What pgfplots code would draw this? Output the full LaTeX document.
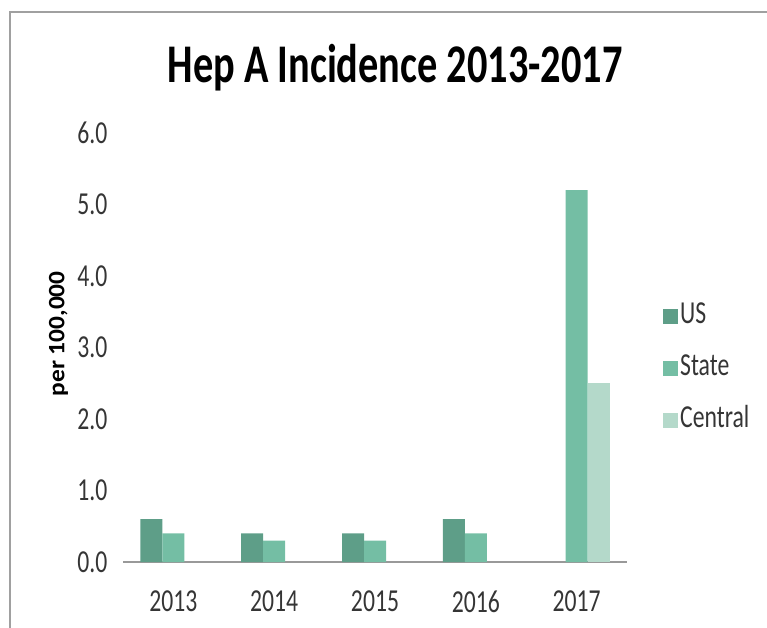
\documentclass[border=0pt]{standalone}
\usepackage{fontspec}
\setmainfont{Carlito}[FakeStretch=0.74]
\newfontfamily\rotfont{Carlito}[FakeStretch=1.08]
\usepackage{pgfplots}
\pgfplotsset{compat=1.18}
\definecolor{cUS}{HTML}{5E9E88}
\definecolor{cState}{HTML}{74BEA4}
\definecolor{cCentral}{HTML}{B4D9CA}
\definecolor{txt}{HTML}{353535}
\definecolor{frame}{HTML}{A0A0A0}
\begin{document}
\begin{tikzpicture}
\useasboundingbox (-123pt,-65pt) rectangle (644pt,562pt);
\draw[color=frame, line width=1.5pt] (-113pt,-66pt) -- (-113pt,550pt) -- (645pt,550pt);
\begin{axis}[
  scale only axis, width=504pt, height=429pt,
  xmin=-0.5, xmax=4.5, ymin=0, ymax=6,
  ybar=0pt, bar width=22pt,
  axis x line*=bottom, axis y line*=left,
  x axis line style={-, draw=gray!80, line width=1.5pt},
  y axis line style={draw=none},
  major tick length=0pt,
  ytick={0,1,2,3,4,5,6},
  xtick={0,1,2,3,4}, xticklabels={2013,2014,2015,2016,2017},
  yticklabel style={/pgf/number format/.cd, fixed, fixed zerofill, precision=1, assume math mode=true, /tikz/.cd, font=\fontsize{32}{38}\selectfont, text=txt, xshift=-12pt},
  xticklabel style={font=\fontsize{32}{38}\selectfont, text=txt, yshift=-25pt},
  title={Hep A Incidence 2013-2017},
  title style={at={(0.540,1.1026)}, anchor=base, font=\fontsize{54.5}{61}\selectfont\bfseries},
  ylabel={per 100,000},
  ylabel style={at={(axis description cs:-0.128,0.532)}, anchor=center, font=\rotfont\fontsize{23.5}{26}\selectfont\bfseries},
  legend style={at={(1.0714,0.4522)}, anchor=west, draw=none, fill=none, inner sep=0pt,
    font=\fontsize{32}{38}\selectfont, text=txt, row sep=22pt,
    nodes={inner xsep=2pt, inner ysep=2pt, text height=20pt, text depth=6pt}},
  legend cell align=left,
  legend image code/.code={\fill[#1] (0pt,-7.5pt) rectangle (15pt,7.5pt);},
]
\addplot[fill=cUS, draw=none] coordinates {(0,0.6) (1,0.4) (2,0.4) (3,0.6)};
\addplot[fill=cState, draw=none] coordinates {(0,0.4) (1,0.3) (2,0.3) (3,0.4) (4,5.2)};
\addplot[fill=cCentral, draw=none] coordinates {(4,2.5)};
\legend{US,State,Central}
\end{axis}
\end{tikzpicture}
\end{document}
